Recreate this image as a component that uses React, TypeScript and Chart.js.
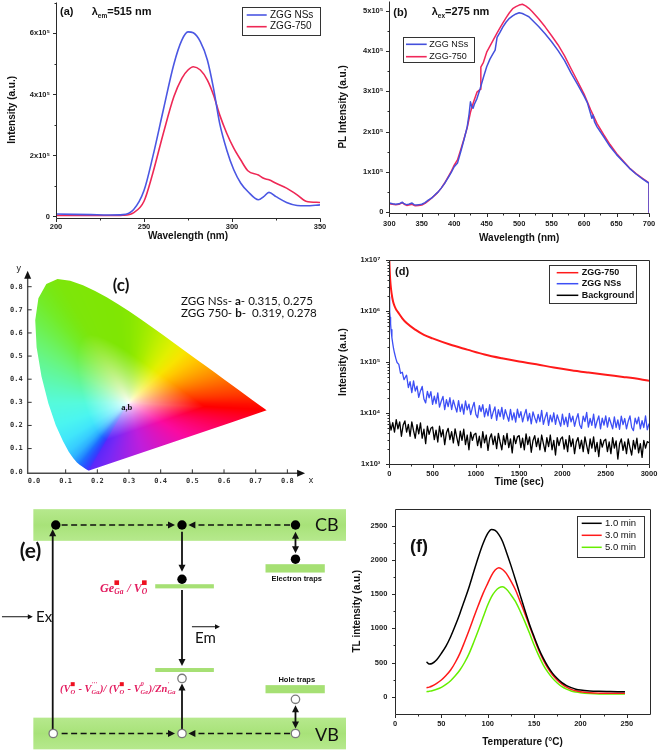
import React, { useEffect, useRef } from 'react';
import { Chart, registerables } from 'chart.js';

Chart.register(...registerables);

const SANS = "'Liberation Sans', Arial, sans-serif";
const SERIF = "'Liberation Serif', 'Times New Roman', serif";
const HUMAN = "Lato, 'Open Sans', sans-serif";
const MONO = "'DejaVu Sans Mono', monospace";

/* ---------------- (a) excitation spectra, λem = 515 nm (values in 1e5) ---------------- */
const excWavelength = [200, 210, 220, 230, 238, 244, 250, 255, 261, 267, 271.5, 275, 278, 282, 286, 289.5, 293, 297, 301, 305, 309, 315, 318, 321, 325, 331, 337, 342, 350];
const excNSs = [0.08, 0.07, 0.06, 0.05, 0.06, 0.22, 0.85, 1.96, 3.5, 5.0, 5.78, 6.05, 6.02, 5.73, 5.13, 4.2, 3.05, 2.18, 1.53, 1.09, 0.82, 0.55, 0.65, 0.79, 0.65, 0.46, 0.36, 0.35, 0.38];
const exc750 = [0.03, 0.03, 0.03, 0.03, 0.04, 0.12, 0.5, 1.42, 2.73, 3.93, 4.53, 4.8, 4.91, 4.8, 4.47, 3.98, 3.33, 2.73, 2.24, 1.85, 1.5, 1.36, 1.25, 1.2, 1.09, 0.93, 0.71, 0.5, 0.46];
const excXTicks = [200, 250, 300, 350];
const excXMinor = [225, 275, 325];
const excYTicks = [0, 2e5, 4e5, 6e5];
const excYMinor = [1e5, 3e5, 5e5, 7e5];

/* ---------------- (b) emission spectra, λex = 275 nm (values in 1e5) ---------------- */
const emNSsNm = [300, 305, 310, 315, 320, 322, 326, 330, 335, 338, 342, 346, 350, 355, 360, 365, 370, 375, 380, 385, 390, 395, 400, 405, 410, 415, 420, 423, 425, 427, 429, 431, 435, 440, 445, 450, 455, 460, 463, 466, 470, 475, 480, 485, 490, 495, 500, 505, 510, 515, 520, 530, 540, 550, 560, 570, 580, 590, 600, 605, 610, 612, 614, 616, 620, 630, 640, 650, 660, 670, 680, 690, 700, 700];
const emNSs = [0.23, 0.21, 0.2, 0.21, 0.25, 0.22, 0.19, 0.2, 0.23, 0.19, 0.18, 0.19, 0.2, 0.24, 0.3, 0.35, 0.43, 0.5, 0.6, 0.71, 0.84, 0.98, 1.13, 1.22, 1.5, 1.8, 2.12, 2.45, 2.74, 2.62, 2.58, 2.68, 2.82, 3.07, 3.35, 3.61, 3.8, 3.94, 4.02, 4.34, 4.45, 4.6, 4.72, 4.81, 4.87, 4.92, 4.95, 4.93, 4.89, 4.85, 4.77, 4.61, 4.43, 4.23, 4.01, 3.76, 3.45, 3.17, 2.88, 2.72, 2.45, 2.33, 2.41, 2.25, 2.12, 1.88, 1.63, 1.43, 1.26, 1.09, 0.95, 0.83, 0.72, 0];
const em750Nm = [300, 305, 310, 315, 320, 323, 327, 330, 335, 340, 345, 350, 355, 360, 365, 370, 375, 380, 385, 390, 395, 400, 405, 410, 415, 420, 425, 430, 435, 440, 441, 445, 450, 455, 460, 465, 470, 475, 480, 485, 490, 495, 500, 505, 510, 515, 520, 530, 540, 550, 560, 570, 580, 590, 600, 610, 620, 630, 640, 650, 660, 670, 680, 690, 700, 700];
const em750 = [0.21, 0.2, 0.19, 0.2, 0.24, 0.2, 0.17, 0.18, 0.2, 0.16, 0.17, 0.18, 0.22, 0.28, 0.35, 0.42, 0.5, 0.6, 0.72, 0.86, 1.0, 1.17, 1.3, 1.55, 1.82, 2.1, 2.48, 2.75, 2.98, 3.05, 3.6, 3.72, 3.97, 4.12, 4.27, 4.42, 4.56, 4.7, 4.83, 4.95, 5.05, 5.1, 5.14, 5.16, 5.12, 5.06, 4.98, 4.8, 4.6, 4.38, 4.15, 3.88, 3.56, 3.25, 2.93, 2.55, 2.2, 1.93, 1.68, 1.46, 1.28, 1.1, 0.96, 0.84, 0.73, 0];
const emXTicks = [300, 350, 400, 450, 500, 550, 600, 650, 700];
const emXMinor = [325, 375, 425, 475, 525, 575, 625, 675];
const emYTicks = [0, 1e5, 2e5, 3e5, 4e5, 5e5];
const emYMinor = [0.5e5, 1.5e5, 2.5e5, 3.5e5, 4.5e5];

/* ---------------- (c) CIE 1931 chromaticity ---------------- */
const locusX = [0.1741, 0.1733, 0.1714, 0.1689, 0.1644, 0.1566, 0.144, 0.1355, 0.1241, 0.1096, 0.0913, 0.0687, 0.0454, 0.0235, 0.0082, 0.0039, 0.0139, 0.0389, 0.0743, 0.1142, 0.1547, 0.1929, 0.2296, 0.2658, 0.3016, 0.3373, 0.3731, 0.4087, 0.4441, 0.4788, 0.5125, 0.5448, 0.5752, 0.6029, 0.627, 0.6658, 0.6915, 0.7079, 0.719, 0.726, 0.73, 0.7334, 0.7347];
const locusY = [0.005, 0.0048, 0.0051, 0.0069, 0.0109, 0.0177, 0.0297, 0.0399, 0.0578, 0.0868, 0.1327, 0.2007, 0.295, 0.4127, 0.5384, 0.6548, 0.7502, 0.812, 0.8338, 0.8262, 0.8059, 0.7816, 0.7543, 0.7243, 0.6923, 0.6589, 0.6245, 0.5896, 0.5547, 0.5202, 0.4866, 0.4544, 0.4242, 0.3965, 0.3725, 0.334, 0.3083, 0.292, 0.2809, 0.274, 0.27, 0.2666, 0.2653];
const cieNSs = [0.315, 0.275];
const cie750 = [0.319, 0.278];
const cieTicks = [0, 0.1, 0.2, 0.3, 0.4, 0.5, 0.6, 0.7, 0.8];
// colour styling of the diagram (one RGB per locus point, plus purple-line stops)
const locusShade = [
  [90, 40, 250], [80, 45, 250], [70, 50, 252], [60, 55, 255], [50, 65, 255], [40, 80, 255], [30, 110, 255], [35, 140, 255], [45, 175, 255], [55, 205, 255],
  [65, 230, 250], [75, 245, 240], [85, 250, 220], [95, 248, 170], [105, 245, 120], [110, 240, 75], [115, 236, 40], [120, 232, 20], [125, 230, 10], [126, 230, 8],
  [127, 230, 6], [127, 230, 5], [127, 230, 4], [128, 230, 3], [134, 231, 2], [148, 234, 0], [170, 237, 0], [198, 240, 0], [226, 240, 0], [248, 228, 0],
  [255, 200, 0], [255, 170, 0], [255, 140, 0], [255, 112, 0], [255, 88, 0], [255, 55, 0], [255, 30, 0], [255, 15, 0], [255, 8, 0], [255, 4, 0],
  [255, 0, 0], [255, 0, 0], [255, 0, 0],
];
const purpleStops: [number, number[]][] = [[0.2, [255, 0, 70]], [0.45, [250, 10, 160]], [0.7, [190, 30, 220]], [0.9, [120, 40, 245]]];
const WHITE = [0.3, 0.3];

/* ---------------- (d) afterglow decay ---------------- */
const decay750T = [0, 5, 10, 20, 35, 50, 75, 100, 150, 200, 300, 400, 500, 700, 900, 1100, 1300, 1500, 1700, 1900, 2100, 2300, 2500, 2700, 2900, 3000];
const decay750k = [10000, 6000, 4200, 2700, 1800, 1400, 1100, 950, 720, 580, 430, 340, 290, 220, 175, 140, 118, 102, 90, 78, 69, 62, 56, 51, 46, 43];
const decayNSsEarlyT = [0, 3, 6, 10, 15, 20, 30, 40, 50, 60, 75, 90, 110, 130, 150, 170, 190];
const decayNSsEarlyK = [1900, 1300, 950, 750, 560, 430, 300, 230, 180, 150, 118, 98, 90, 60, 63, 45, 52];
// t = 200 … 3000 s, every 20 s (values in 1e3)
const decayNSsTailK = [
  55, 31.6, 41.3, 25.1, 42.6,
  27, 33.6, 20.3, 27.1, 33.2,
  18.8, 15.8, 26.5, 19.9, 26.3,
  14.8, 21.3, 15.2, 24.8, 13,
  17, 21.2, 11.6, 18.3, 13.3,
  19.9, 11.7, 17.8, 13.5, 10.4,
  17.5, 10.7, 14.9, 9.5, 17.2,
  11.5, 14.9, 9.3, 12.8, 16.2,
  9.4, 8.1, 14, 10.7, 14.6,
  8.4, 12.2, 8.8, 14.6, 7.8,
  10.4, 13.2, 7.2, 11.6, 8.5,
  12.9, 7.6, 11.6, 8.9, 6.9,
  11.8, 7.3, 10.1, 6.6, 11.9,
  8.1, 10.6, 6.7, 9.2, 11.8,
  7.0, 9.8, 6.1, 10.5, 8.1,
  6.4, 9.4, 6.8, 11.3, 6.0,
  8.1, 10.3, 5.7, 9.1, 6.7,
  10.1, 6.0, 9.2, 7.1, 5.5,
  9.5, 5.9, 8.3, 5.4, 9.8,
  6.7, 8.7, 5.5, 7.6, 9.7,
  5.8, 5.0, 8.7, 6.8, 10.3,
  5.3, 7.8, 5.7, 9.5, 5.1,
  6.9, 8.8, 4.9, 7.9, 5.8,
  8.8, 5.3, 8.1, 6.3, 4.9,
  8.4, 5.2, 7.3, 4.8, 8.7,
  5.9, 7.8, 4.9, 6.9, 8.8,
  5.2, 4.5, 7.9, 6.1, 8.3,
  4.9, 7.1, 5.2, 8.8, 4.7,
  6.2,
];
// t = 0 … 3000 s, every 20 s (values in 1e3)
const decayBgK = [
  7.2, 4.6, 6.5, 4.2, 7.4,
  4.9, 6.7, 3.5, 5.8, 7.0,
  4.2, 6.0, 3.5, 6.7, 4.5,
  3.2, 5.9, 3.9, 6.4, 3.2,
  4.8, 2.5, 5.5, 3.8, 5.0,
  5.3, 3.0, 4.6, 2.7, 5.5,
  3.4, 4.7, 2.4, 4.1, 5.0,
  3.0, 4.3, 2.6, 4.9, 3.3,
  2.3, 4.4, 2.9, 4.8, 2.4,
  3.7, 1.9, 4.2, 2.9, 3.8,
  4.0, 2.3, 3.5, 2.1, 4.3,
  2.6, 3.7, 1.85, 3.2, 3.9,
  2.4, 3.5, 2.0, 4.0, 2.7,
  1.9, 3.6, 2.4, 4.0, 2.1,
  3.1, 1.65, 3.6, 2.5, 3.4,
  3.6, 2.1, 3.2, 1.9, 3.9,
  2.4, 3.4, 1.7, 2.9, 3.6,
  2.2, 3.2, 1.9, 3.7, 2.5,
  1.75, 3.3, 2.2, 3.7, 1.9,
  2.9, 1.5, 3.3, 2.3, 3.1,
  3.4, 1.95, 3.0, 1.75, 3.6,
  2.2, 3.1, 1.6, 2.7, 3.3,
  2.0, 2.95, 1.75, 3.4, 2.3,
  1.6, 3.1, 2.05, 3.4, 1.75,
  2.65, 1.4, 3.05, 2.15, 2.85,
  3.05, 1.75, 2.7, 1.6, 3.3,
  2.05, 2.85, 1.25, 2.5, 3.1,
  1.85, 2.7, 1.6, 3.1, 2.1,
  1.5, 2.9, 1.95, 3.2, 1.65,
  2.5, 1.35, 2.9, 2.05, 2.75,
  2.6,
];
const decayXTicks = [0, 500, 1000, 1500, 2000, 2500, 3000];
const decayXMinor = [250, 750, 1250, 1750, 2250, 2750];
const decayYTicks = [1e3, 1e4, 1e5, 1e6, 1e7];

/* ---------------- (e) energy-level scheme (column index, energy above VB in eV) ---------------- */
const cbEdge = [4.62, 5.38];
const vbEdge = [-0.38, 0.38];
const bandX = [-0.166, 2.29];
const electronCol = [0.01, 1, 1.89, 1.89, 1];
const electronE = [5.0, 5.0, 5.0, 4.18, 3.7];
const holeCol = [1, 1.89, -0.01, 1, 1.89];
const holeE = [1.32, 0.82, 0, 0, 0];
const levelCol0 = [0.79, 0.79, 1.655, 1.655];
const levelCol1 = [1.25, 1.25, 2.12, 2.12];
const levelE0 = [3.48, 1.475, 3.86, 0.965];
const levelE1 = [3.58, 1.57, 4.06, 1.16];
const solidArrows = [
  [-0.014, 0.1, -0.014, 4.9, 1],
  [1, 4.84, 1, 3.88, 1],
  [1, 3.44, 1, 1.62, 1],
  [1, 0.1, 1, 1.2, 1],
  [1.89, 4.84, 1.89, 4.32, 2],
  [1.89, 0.68, 1.89, 0.12, 2],
];
const dashedArrows = [
  [0.056, 5.0, 0.945, 5.0],
  [1.847, 5.0, 1.05, 5.0],
  [0.056, 0, 0.945, 0],
  [1.847, 0, 1.05, 0],
];
const pointerArrows = [
  [-0.412, 2.8, -0.17, 2.8],
  [1.078, 2.56, 1.298, 2.56],
];

/* ---------------- (f) thermoluminescence glow curves ---------------- */
const tlTemp = [34, 37, 40, 45, 50, 55, 60, 65, 70, 75, 80, 85, 90, 95, 100, 104, 108, 112, 116, 120, 125, 130, 135, 140, 145, 150, 155, 160, 165, 170, 175, 180, 185, 190, 195, 200, 210, 220, 230, 240, 248];
const tl1min = [510, 478, 485, 540, 634, 740, 877, 1040, 1218, 1410, 1608, 1830, 2047, 2240, 2388, 2446, 2430, 2370, 2270, 2120, 1920, 1706, 1485, 1267, 1060, 877, 705, 560, 440, 341, 265, 205, 163, 132, 110, 97, 84, 78, 75, 73, 73];
const tl3min = [132, 140, 156, 195, 244, 310, 390, 500, 634, 800, 975, 1160, 1340, 1510, 1657, 1770, 1852, 1886, 1860, 1803, 1690, 1559, 1390, 1218, 1035, 853, 680, 536, 415, 317, 240, 185, 140, 107, 86, 73, 58, 52, 50, 49, 49];
const tl5min = [73, 80, 88, 108, 136, 180, 234, 305, 390, 500, 634, 800, 975, 1160, 1340, 1460, 1540, 1590, 1608, 1574, 1490, 1389, 1250, 1097, 930, 755, 600, 463, 355, 268, 200, 146, 110, 83, 68, 58, 46, 39, 38, 38, 38];
const tlXTicks = [0, 50, 100, 150, 200, 250];
const tlXMinor = [25, 75, 125, 175, 225, 275];
const tlYTicks = [0, 500, 1000, 1500, 2000, 2500];
const tlYMinor = [250, 750, 1250, 1750, 2250, 2750];

/* ---------------- helpers ---------------- */
const SUP: Record<number, string> = { 3: '³', 4: '⁴', 5: '⁵', 6: '⁶', 7: '⁷' };
const fmtE5 = (v: number) => (v === 0 ? '0' : `${Math.round(v / 1e5)}x10⁵`);

type Part = { t: string; f: string; dy?: number; c?: string };
function drawParts(ctx: CanvasRenderingContext2D, x: number, y: number, parts: Part[], align: string) {
  const ws = parts.map((p) => { ctx.font = p.f; return ctx.measureText(p.t).width; });
  const total = ws.reduce((s, w) => s + w, 0);
  let cx = align === 'right' ? x - total : align === 'center' ? x - total / 2 : x;
  ctx.textAlign = 'left';
  ctx.textBaseline = 'middle';
  parts.forEach((p, i) => {
    ctx.font = p.f;
    ctx.fillStyle = p.c || '#111';
    ctx.fillText(p.t, cx, y + (p.dy || 0));
    cx += ws[i];
  });
}

function originAxesPlugin(xMaj: number[], xMin: number[], yMaj: number[], yMin: number[], box: boolean) {
  return {
    id: 'originAxes',
    afterDatasetsDraw(chart: any) {
      const { ctx, chartArea: a, scales } = chart;
      const xs = scales.x, ys = scales.y;
      const L = Math.round(a.left) + 0.5, R = Math.round(a.right) + 0.5, T = Math.round(a.top) + 0.5, B = Math.round(a.bottom) + 0.5;
      ctx.save();
      ctx.strokeStyle = '#2a2a2a';
      ctx.lineWidth = 1;
      ctx.beginPath();
      ctx.moveTo(L, T); ctx.lineTo(L, B); ctx.lineTo(R, B);
      if (box) { ctx.lineTo(R, T); ctx.lineTo(L, T); }
      const inX = (v: number) => v > xs.min && v < xs.max;
      const inY = (v: number) => v > ys.min && v < ys.max;
      const vt = (v: number, len: number) => { const p = Math.round(xs.getPixelForValue(v)) + 0.5; ctx.moveTo(p, B); ctx.lineTo(p, B + len); };
      const ht = (v: number, len: number) => { const p = Math.round(ys.getPixelForValue(v)) + 0.5; ctx.moveTo(L, p); ctx.lineTo(L - len, p); };
      xMaj.forEach((v) => vt(v, 3.5));
      xMin.filter(inX).forEach((v) => vt(v, 2));
      yMaj.forEach((v) => ht(v, 3.5));
      yMin.filter(inY).forEach((v) => ht(v, 2));
      ctx.stroke();
      ctx.restore();
    },
  };
}

function boxLegendPlugin(lg: any) {
  return {
    id: 'boxLegend',
    afterDraw(chart: any) {
      const ctx = chart.ctx;
      ctx.save();
      ctx.fillStyle = '#fff';
      ctx.fillRect(lg.x, lg.y, lg.w, lg.h);
      ctx.strokeStyle = '#333';
      ctx.lineWidth = 1;
      ctx.strokeRect(Math.round(lg.x) + 0.5, Math.round(lg.y) + 0.5, Math.round(lg.w), Math.round(lg.h));
      ctx.font = lg.font;
      ctx.textBaseline = 'middle';
      ctx.textAlign = 'left';
      lg.order.forEach((di: number, i: number) => {
        const ds = chart.data.datasets[di];
        const yy = lg.rows[i];
        ctx.strokeStyle = ds.borderColor;
        ctx.lineWidth = lg.lw;
        ctx.beginPath(); ctx.moveTo(lg.lineX[0], yy); ctx.lineTo(lg.lineX[1], yy); ctx.stroke();
        ctx.fillStyle = '#111';
        ctx.fillText(ds.label, lg.textX, yy);
      });
      ctx.restore();
    },
  };
}

function notesPlugin(notes: { x: number; y: number; parts: Part[]; align?: string }[]) {
  return {
    id: 'notes',
    afterDraw(chart: any) {
      const ctx = chart.ctx;
      ctx.save();
      notes.forEach((n) => drawParts(ctx, n.x, n.y, n.parts, n.align || 'left'));
      ctx.restore();
    },
  };
}

function originChart(o: any) {
  const { W, H, area } = o;
  const tickFont = { family: SANS, size: o.tickSize || 7.5, weight: 'bold' };
  const titleFont = { family: SANS, size: 10, weight: 'bold' };
  return {
    type: 'line',
    data: { datasets: o.datasets },
    options: {
      responsive: false,
      animation: false,
      devicePixelRatio: 1,
      layout: { padding: { left: 0, top: area.top, right: W - area.right, bottom: 0 }, autoPadding: false },
      plugins: { legend: { display: false }, tooltip: { enabled: false } },
      elements: { point: { radius: 0 }, line: { borderJoinStyle: 'round', tension: 0 } },
      scales: {
        x: {
          type: 'linear', position: 'bottom', min: o.x.min, max: o.x.max,
          grid: { display: false, drawTicks: false }, border: { display: false },
          afterBuildTicks: (s: any) => { s.ticks = o.x.major.map((v: number) => ({ value: v })); },
          afterFit: (s: any) => { s.height = H - area.bottom; s.paddingLeft = 0; s.paddingRight = 0; },
          ticks: { autoSkip: false, maxRotation: 0, minRotation: 0, padding: o.x.tickPad, font: tickFont, color: '#1a1a1a', callback: (v: number) => String(v) },
          title: { display: true, text: o.x.title, font: titleFont, color: '#111', padding: { top: 0, bottom: o.x.titlePad } },
        },
        y: {
          type: o.y.type || 'linear', position: 'left', min: o.y.min, max: o.y.max,
          grid: { display: false, drawTicks: false }, border: { display: false },
          afterBuildTicks: (s: any) => { s.ticks = o.y.major.map((v: number) => ({ value: v })); },
          afterFit: (s: any) => { s.width = area.left; s.paddingTop = 0; s.paddingBottom = 0; },
          ticks: { autoSkip: false, padding: o.y.tickPad, font: tickFont, color: '#1a1a1a', callback: (v: number) => o.y.fmt(v) },
          title: { display: true, text: o.y.title, font: titleFont, color: '#111', padding: { top: o.y.titlePad, bottom: 0 } },
        },
      },
    },
    plugins: [
      originAxesPlugin(o.x.major, o.x.minor, o.y.major, o.y.minor, !!o.box),
      boxLegendPlugin(o.legend),
      notesPlugin(o.notes),
    ],
  };
}

/* ---------------- panel builders ---------------- */
function buildA() {
  return originChart({
    W: 333, H: 245, area: { left: 56, top: 2, right: 320, bottom: 217.7 },
    datasets: [
      { label: 'ZGG NSs', data: excWavelength.map((x, i) => ({ x, y: excNSs[i] * 1e5 })), borderColor: '#4b57e3', borderWidth: 1.6, cubicInterpolationMode: 'monotone' },
      { label: 'ZGG-750', data: excWavelength.map((x, i) => ({ x, y: exc750[i] * 1e5 })), borderColor: '#ee2855', borderWidth: 1.6, cubicInterpolationMode: 'monotone' },
    ],
    x: { min: 200, max: 350, major: excXTicks, minor: excXMinor, title: 'Wavelength (nm)', tickPad: 5, titlePad: 2.3 },
    y: { min: -4000, max: 703000, major: excYTicks, minor: excYMinor, fmt: fmtE5, title: 'Intensity (a.u.)', tickPad: 6, titlePad: 6 },
    legend: { x: 242, y: 7, w: 78, h: 28, rows: [15, 26.7], lineX: [246.7, 266.7], textX: 270, font: `10px ${SANS}`, order: [0, 1], lw: 1.6 },
    notes: [
      { x: 60, y: 12.3, parts: [{ t: '(a)', f: `bold 11px ${SANS}` }] },
      { x: 91.7, y: 12.3, parts: [{ t: 'λ', f: `bold 11px ${SANS}` }, { t: 'em', f: `bold 6.5px ${SANS}`, dy: 3.5 }, { t: '=515 nm', f: `bold 11px ${SANS}` }] },
    ],
  });
}

function buildB() {
  return originChart({
    W: 326, H: 245, area: { left: 56.3, top: 0.5, right: 316, bottom: 213.3 },
    datasets: [
      { label: 'ZGG NSs', data: emNSsNm.map((x, i) => ({ x, y: emNSs[i] * 1e5 })), borderColor: '#4450dc', borderWidth: 1.5 },
      { label: 'ZGG-750', data: em750Nm.map((x, i) => ({ x, y: em750[i] * 1e5 })), borderColor: '#f0285a', borderWidth: 1.5 },
    ],
    x: { min: 300, max: 700, major: emXTicks, minor: emXMinor, title: 'Wavelength (nm)', tickPad: 5.8, titlePad: 0.7 },
    y: { min: -2500, max: 525300, major: emYTicks, minor: emYMinor, fmt: fmtE5, title: 'PL Intensity (a.u.)', tickPad: 6, titlePad: 4.3 },
    legend: { x: 69.7, y: 37.3, w: 70.6, h: 25.4, rows: [44.3, 56.7], lineX: [73, 93.7], textX: 96.3, font: `9px ${SANS}`, order: [0, 1], lw: 1.6 },
    notes: [
      { x: 60.3, y: 13.3, parts: [{ t: '(b)', f: `bold 11px ${SANS}` }] },
      { x: 98.7, y: 12.3, parts: [{ t: 'λ', f: `bold 11px ${SANS}` }, { t: 'ex', f: `bold 6.5px ${SANS}`, dy: 3.5 }, { t: '=275 nm', f: `bold 11px ${SANS}` }] },
    ],
  });
}

function buildD() {
  const nssData = [
    ...decayNSsEarlyT.map((t, i) => ({ x: t, y: decayNSsEarlyK[i] * 1e3 })),
    ...decayNSsTailK.map((v, i) => ({ x: 200 + 20 * i, y: v * 1e3 })),
  ];
  const minor: number[] = [];
  [1e3, 1e4, 1e5, 1e6].forEach((d) => { for (let k = 2; k <= 9; k++) minor.push(d * k); });
  return originChart({
    W: 326, H: 245, area: { left: 56.3, top: 10, right: 316, bottom: 214 },
    box: true,
    datasets: [
      { label: 'ZGG-750', data: decay750T.map((x, i) => ({ x, y: decay750k[i] * 1e3 })), borderColor: '#ff1a1a', borderWidth: 2, cubicInterpolationMode: 'monotone' },
      { label: 'ZGG NSs', data: nssData, borderColor: '#3d4ff5', borderWidth: 1.3 },
      { label: 'Background', data: decayBgK.map((v, i) => ({ x: 20 * i, y: v * 1e3 })), borderColor: '#000000', borderWidth: 1.3 },
    ],
    x: { min: 0, max: 3000, major: decayXTicks, minor: decayXMinor, title: 'Time (sec)', tickPad: 5.1, titlePad: 6.3 },
    y: { type: 'logarithmic', min: 1e3, max: 1e7, major: decayYTicks, minor, fmt: (v: number) => `1x10${SUP[Math.round(Math.log10(v))]}`, title: 'Intensity (a.u.)', tickPad: 9, titlePad: 4 },
    legend: { x: 216.3, y: 15, w: 87.4, h: 37.7, rows: [22.7, 33.7, 45.3], lineX: [223.7, 245.3], textX: 248.7, font: `bold 9px ${SANS}`, order: [0, 1, 2], lw: 1.5 },
    notes: [{ x: 62, y: 21.7, parts: [{ t: '(d)', f: `bold 11px ${SANS}` }] }],
  });
}

function buildF() {
  return originChart({
    W: 319, H: 257, area: { left: 55, top: 13.6, right: 310, bottom: 218.8 },
    box: true,
    datasets: [
      { label: '1.0 min', data: tlTemp.map((x, i) => ({ x, y: tl1min[i] })), borderColor: '#000000', borderWidth: 1.5, cubicInterpolationMode: 'monotone' },
      { label: '3.0 min', data: tlTemp.map((x, i) => ({ x, y: tl3min[i] })), borderColor: '#ff1a1a', borderWidth: 1.5, cubicInterpolationMode: 'monotone' },
      { label: '5.0 min', data: tlTemp.map((x, i) => ({ x, y: tl5min[i] })), borderColor: '#66ee00', borderWidth: 1.5, cubicInterpolationMode: 'monotone' },
    ],
    x: { min: 0, max: 275, major: tlXTicks, minor: tlXMinor, title: 'Temperature (°C)', tickPad: 5.3, titlePad: 4 },
    y: { min: -250, max: 2750, major: tlYTicks, minor: tlYMinor, fmt: (v: number) => String(v), title: 'TL intensity (a.u.)', tickPad: 7.7, titlePad: 11 },
    legend: { x: 236.7, y: 21, w: 66.6, h: 40.7, rows: [28.3, 40.3, 52.3], lineX: [241.7, 261.7], textX: 265, font: `9.5px ${SANS}`, order: [0, 1, 2], lw: 1.5 },
    notes: [{ x: 70, y: 51.7, parts: [{ t: '(f)', f: `bold 18px ${SANS}` }] }],
  });
}

/* ---------------- (c) CIE diagram ---------------- */
function cieFillPlugin() {
  return {
    id: 'cieFill',
    beforeDatasetsDraw(chart: any) {
      const { ctx, scales: { x, y } } = chart;
      const verts = locusX.map((lx, i) => ({ x: lx, y: locusY[i], c: locusShade[i] }));
      const a = verts[verts.length - 1], b = verts[0];
      purpleStops.forEach(([f, c]) => verts.push({ x: a.x + (b.x - a.x) * f, y: a.y + (b.y - a.y) * f, c }));
      const px = verts.map((v) => x.getPixelForValue(v.x));
      const py = verts.map((v) => y.getPixelForValue(v.y));
      const x0 = Math.floor(Math.min(...px)), x1 = Math.ceil(Math.max(...px));
      const y0 = Math.floor(Math.min(...py)), y1 = Math.ceil(Math.max(...py));
      const w = x1 - x0 + 1, h = y1 - y0 + 1;
      const off = document.createElement('canvas');
      off.width = w; off.height = h;
      const octx = off.getContext('2d') as CanvasRenderingContext2D;
      const img = octx.createImageData(w, h);
      const colV = new Float64Array(w), rowV = new Float64Array(h);
      for (let i = 0; i < w; i++) colV[i] = x.getValueForPixel(x0 + i + 0.5);
      for (let j = 0; j < h; j++) rowV[j] = y.getValueForPixel(y0 + j + 0.5);
      const n = verts.length;
      for (let j = 0; j < h; j++) {
        for (let i = 0; i < w; i++) {
          const dx = colV[i] - WHITE[0], dy = rowV[j] - WHITE[1];
          let cr = 255, cg = 255, cb = 255;
          if (dx * dx + dy * dy > 1e-10) {
            for (let k = 0; k < n; k++) {
              const A = verts[k], B = verts[(k + 1) % n];
              const ex = B.x - A.x, ey = B.y - A.y;
              const den = dx * ey - dy * ex;
              if (Math.abs(den) < 1e-14) continue;
              const wx = A.x - WHITE[0], wy = A.y - WHITE[1];
              const t = (wx * ey - wy * ex) / den;
              const s = (wx * dy - wy * dx) / den;
              if (t > 0 && s >= 0 && s <= 1) {
                const r = 1 / t;
                const f = Math.pow(Math.min(1, r / 0.55), 0.75);
                cr = 255 + (A.c[0] + (B.c[0] - A.c[0]) * s - 255) * f;
                cg = 255 + (A.c[1] + (B.c[1] - A.c[1]) * s - 255) * f;
                cb = 255 + (A.c[2] + (B.c[2] - A.c[2]) * s - 255) * f;
                break;
              }
            }
          }
          const o = (j * w + i) * 4;
          img.data[o] = cr; img.data[o + 1] = cg; img.data[o + 2] = cb; img.data[o + 3] = 255;
        }
      }
      octx.putImageData(img, 0, 0);
      ctx.save();
      ctx.beginPath();
      px.forEach((p, i) => (i ? ctx.lineTo(p, py[i]) : ctx.moveTo(p, py[i])));
      ctx.closePath();
      ctx.clip();
      ctx.drawImage(off, x0, y0);
      ctx.restore();
    },
  };
}

function cieAxesPlugin() {
  return {
    id: 'cieAxes',
    afterDatasetsDraw(chart: any) {
      const { ctx, scales: { x, y } } = chart;
      const X = (v: number) => x.getPixelForValue(v), Y = (v: number) => y.getPixelForValue(v);
      const ox = X(-0.02), oy = Y(-0.007);
      const tx = X(0.856), ty = Y(0.869);
      ctx.save();
      ctx.strokeStyle = '#4a4a4a'; ctx.fillStyle = '#111'; ctx.lineWidth = 1.4;
      ctx.beginPath(); ctx.moveTo(ox, ty + 6); ctx.lineTo(ox, oy); ctx.lineTo(tx - 6, oy); ctx.stroke();
      ctx.beginPath(); ctx.moveTo(ox, ty); ctx.lineTo(ox - 3.5, ty + 8); ctx.lineTo(ox + 3.5, ty + 8); ctx.closePath(); ctx.fill();
      ctx.beginPath(); ctx.moveTo(tx, oy); ctx.lineTo(tx - 8, oy - 3.5); ctx.lineTo(tx - 8, oy + 3.5); ctx.closePath(); ctx.fill();
      ctx.lineWidth = 1; ctx.strokeStyle = '#333';
      ctx.beginPath();
      cieTicks.forEach((v) => {
        if (v > 0) {
          const p = X(v); ctx.moveTo(p, oy); ctx.lineTo(p, oy - 4);
          const q = Y(v); ctx.moveTo(ox, q); ctx.lineTo(ox + 4, q);
        }
      });
      ctx.stroke();
      ctx.font = `bold 7px ${MONO}`; ctx.fillStyle = '#333'; ctx.textBaseline = 'middle';
      ctx.textAlign = 'center';
      cieTicks.forEach((v) => ctx.fillText(v.toFixed(1), X(v), oy + 7.5));
      ctx.textAlign = 'right';
      cieTicks.forEach((v) => ctx.fillText(v.toFixed(1), ox - 5, Y(v)));
      ctx.font = `9px ${SANS}`; ctx.fillStyle = '#222'; ctx.textAlign = 'center';
      ctx.fillText('y', ox - 9, ty - 2);
      ctx.fillText('x', tx + 6, oy + 7);
      // sample label
      ctx.font = `bold 8.5px ${SERIF}`; ctx.fillStyle = '#111'; ctx.textAlign = 'right';
      ctx.fillText('a,b', X(cieNSs[0]) - 1.5, Y(cieNSs[1]));
      ctx.restore();
    },
  };
}

function buildC() {
  const F = `11.6px ${HUMAN}`, FB = `bold 11.6px ${HUMAN}`;
  return {
    type: 'scatter',
    data: {
      datasets: [
        { label: 'spectral locus', data: locusX.map((x, i) => ({ x, y: locusY[i] })), pointRadius: 0, showLine: false },
        { label: 'ZGG NSs', data: [{ x: cieNSs[0], y: cieNSs[1] }], pointRadius: 0 },
        { label: 'ZGG 750', data: [{ x: cie750[0], y: cie750[1] }], pointRadius: 0 },
      ],
    },
    options: {
      responsive: false, animation: false, devicePixelRatio: 1,
      layout: { padding: 0, autoPadding: false },
      plugins: { legend: { display: false }, tooltip: { enabled: false } },
      scales: {
        x: { type: 'linear', display: false, min: -0.10736, max: 0.94411 },
        y: { type: 'linear', display: false, min: -0.07914, max: 0.98032 },
      },
    },
    plugins: [
      cieFillPlugin(),
      cieAxesPlugin(),
      notesPlugin([
        { x: 121, y: 40.5, align: 'center', parts: [{ t: '(c)', f: `bold 17px ${HUMAN}` }] },
        { x: 181, y: 55.8, parts: [{ t: 'ZGG NSs- ', f: F }, { t: 'a', f: FB }, { t: `- ${cieNSs[0]}, ${cieNSs[1]}`, f: F }] },
        { x: 181, y: 68.5, parts: [{ t: 'ZGG 750- ', f: F }, { t: 'b', f: FB }, { t: `-  ${cie750[0]}, ${cie750[1]}`, f: F }] },
      ]),
    ],
  };
}

/* ---------------- (e) scheme ---------------- */
function arrow(ctx: CanvasRenderingContext2D, x0: number, y0: number, x1: number, y1: number, lw: number, both: boolean, dash: number[], hl: number, hw: number) {
  const ang = Math.atan2(y1 - y0, x1 - x0), c = Math.cos(ang), s = Math.sin(ang);
  ctx.lineWidth = lw;
  ctx.setLineDash(dash);
  ctx.beginPath();
  ctx.moveTo(both ? x0 + c * hl * 0.8 : x0, both ? y0 + s * hl * 0.8 : y0);
  ctx.lineTo(x1 - c * hl * 0.8, y1 - s * hl * 0.8);
  ctx.stroke();
  ctx.setLineDash([]);
  const head = (tx: number, ty: number, cc: number, ss: number) => {
    ctx.beginPath();
    ctx.moveTo(tx, ty);
    ctx.lineTo(tx - cc * hl - ss * hw, ty - ss * hl + cc * hw);
    ctx.lineTo(tx - cc * hl + ss * hw, ty - ss * hl - cc * hw);
    ctx.closePath();
    ctx.fill();
  };
  head(x1, y1, c, s);
  if (both) head(x0, y0, -c, -s);
}

type FPart = { t?: string; sub?: string; sup?: string };
const formulaGe: FPart[] = [{ t: 'Ge' }, { sub: 'Ga', sup: '■' }, { t: ' / V' }, { sub: 'O', sup: '■' }];
const formulaV: FPart[] = [{ t: '(V' }, { sub: 'O', sup: '■' }, { t: ' - V' }, { sub: 'Ga', sup: "'''" }, { t: ')/ (V' }, { sub: 'O', sup: '■' }, { t: ' - V' }, { sub: 'Ge', sup: '0' }, { t: ')/Zn' }, { sub: 'Ga', sup: "'" }];

function drawFormula(ctx: CanvasRenderingContext2D, xRight: number, yMid: number, parts: FPart[], width: number) {
  const mainF = (s: number) => `italic bold ${s.toFixed(2)}px ${SERIF}`;
  const smallF = (s: number) => `italic bold ${(s * 0.62).toFixed(2)}px ${SERIF}`;
  const measure = (s: number) => parts.map((p) => {
    if (p.t) { ctx.font = mainF(s); return ctx.measureText(p.t).width; }
    ctx.font = smallF(s);
    const wsub = ctx.measureText(p.sub || '').width;
    const wsup = p.sup === '■' ? s * 0.4 : ctx.measureText(p.sup || '').width;
    return Math.max(wsub, wsup) + s * 0.06;
  });
  const w10 = measure(10).reduce((a, b) => a + b, 0);
  const size = (10 * width) / w10;
  const ws = measure(size);
  let cx = xRight - ws.reduce((a, b) => a + b, 0);
  ctx.textAlign = 'left';
  ctx.textBaseline = 'middle';
  parts.forEach((p, i) => {
    ctx.fillStyle = '#e31c5f';
    if (p.t) {
      ctx.font = mainF(size);
      ctx.fillText(p.t, cx, yMid);
    } else {
      ctx.font = smallF(size);
      ctx.fillText(p.sub || '', cx, yMid + size * 0.34);
      if (p.sup === '■') {
        ctx.fillStyle = '#ee1020';
        ctx.fillRect(cx + size * 0.02, yMid - size * 0.66, size * 0.38, size * 0.38);
      } else {
        ctx.fillText(p.sup || '', cx, yMid - size * 0.45);
      }
    }
    cx += ws[i];
  });
}

function schemePlugin() {
  return {
    id: 'scheme',
    beforeDatasetsDraw(chart: any) {
      const { ctx, scales } = chart;
      const X = (v: number) => scales.x.getPixelForValue(v);
      const Y = (v: number) => scales.y.getPixelForValue(v);
      ctx.save();
      [cbEdge, vbEdge].forEach(([e0, e1]) => {
        const t = Y(e1), b = Y(e0), l = X(bandX[0]), r = X(bandX[1]);
        const g = ctx.createLinearGradient(0, t, 0, b);
        g.addColorStop(0, '#b6e98d');
        g.addColorStop(0.5, '#a8e279');
        g.addColorStop(1, '#b6e98d');
        ctx.fillStyle = g;
        ctx.fillRect(l, t, r - l, b - t);
      });
      ctx.fillStyle = '#a6e074';
      levelCol0.forEach((c0, i) => {
        const l = X(c0), r = X(levelCol1[i]), t = Y(levelE1[i]), b = Y(levelE0[i]);
        ctx.fillRect(l, t, r - l, b - t);
      });
      ctx.strokeStyle = '#111';
      ctx.fillStyle = '#111';
      solidArrows.forEach(([c0, e0, c1, e1, hd]) => arrow(ctx, X(c0), Y(e0), X(c1), Y(e1), 1.8, hd === 2, [], 7, 3.5));
      dashedArrows.forEach(([c0, e0, c1, e1]) => arrow(ctx, X(c0), Y(e0), X(c1), Y(e1), 1.6, false, [6, 3.5], 7, 3.5));
      pointerArrows.forEach(([c0, e0, c1, e1]) => arrow(ctx, X(c0), Y(e0), X(c1), Y(e1), 1, false, [], 5, 2.5));
      ctx.restore();
    },
    afterDatasetsDraw(chart: any) {
      const { ctx, scales } = chart;
      const X = (v: number) => scales.x.getPixelForValue(v);
      const Y = (v: number) => scales.y.getPixelForValue(v);
      ctx.save();
      drawParts(ctx, X(-0.188), Y(4.36), [{ t: '(e)', f: `bold 21px ${HUMAN}` }], 'center');
      drawParts(ctx, X(-0.145), Y(2.8), [{ t: 'Ex', f: `15px ${HUMAN}` }], 'left');
      drawParts(ctx, X(1.102), Y(2.29), [{ t: 'Em', f: `15px ${HUMAN}` }], 'left');
      drawParts(ctx, X(2.043), Y(5.0), [{ t: 'CB', f: `18px ${HUMAN}` }], 'left');
      drawParts(ctx, X(2.043), Y(-0.04), [{ t: 'VB', f: `18px ${HUMAN}` }], 'left');
      drawParts(ctx, X(1.9), Y(3.7), [{ t: 'Electron traps', f: `bold 7.5px ${SANS}` }], 'center');
      drawParts(ctx, X(1.9), Y(1.28), [{ t: 'Hole traps', f: `bold 7.5px ${SANS}` }], 'center');
      drawFormula(ctx, X(0.733), Y(3.48), formulaGe, 48);
      drawFormula(ctx, X(0.953), Y(1.065), formulaV, 116);
      ctx.restore();
    },
  };
}

function buildE() {
  return {
    type: 'scatter',
    data: {
      datasets: [
        { label: 'electrons', data: electronCol.map((x, i) => ({ x, y: electronE[i] })), pointRadius: 4.7, pointBackgroundColor: '#000', pointBorderColor: '#000', pointBorderWidth: 0 },
        { label: 'holes', data: holeCol.map((x, i) => ({ x, y: holeE[i] })), pointRadius: 4.2, pointBackgroundColor: '#fff', pointBorderColor: '#7a7a7a', pointBorderWidth: 1.3 },
      ],
    },
    options: {
      responsive: false, animation: false, devicePixelRatio: 1,
      layout: { padding: 0, autoPadding: false },
      plugins: { legend: { display: false }, tooltip: { enabled: false } },
      scales: {
        x: { type: 'linear', display: false, min: -0.42745, max: 2.28627 },
        y: { type: 'linear', display: false, min: -0.4436, max: 5.8393 },
      },
    },
    plugins: [schemePlugin()],
  };
}

/* ---------------- React ---------------- */
function ChartCanvas({ x, y, w, h, build }: { x: number; y: number; w: number; h: number; build: () => any }) {
  const ref = useRef<HTMLCanvasElement>(null);
  useEffect(() => {
    const chart = new Chart(ref.current as HTMLCanvasElement, build());
    return () => chart.destroy();
  }, []);
  return <canvas ref={ref} width={w} height={h} style={{ position: 'absolute', left: x, top: y, width: w, height: h }} />;
}

export default function App() {
  return (
    <div style={{ position: 'absolute', left: 0, top: 0, width: 659, height: 752, background: '#fff', overflow: 'hidden' }}>
      <ChartCanvas x={0} y={0} w={333} h={245} build={buildA} />
      <ChartCanvas x={333} y={0} w={326} h={245} build={buildB} />
      <ChartCanvas x={0} y={245} w={333} h={245} build={buildC} />
      <ChartCanvas x={333} y={250} w={326} h={245} build={buildD} />
      <ChartCanvas x={0} y={490} w={346} h={262} build={buildE} />
      <ChartCanvas x={340} y={495} w={319} h={257} build={buildF} />
    </div>
  );
}
